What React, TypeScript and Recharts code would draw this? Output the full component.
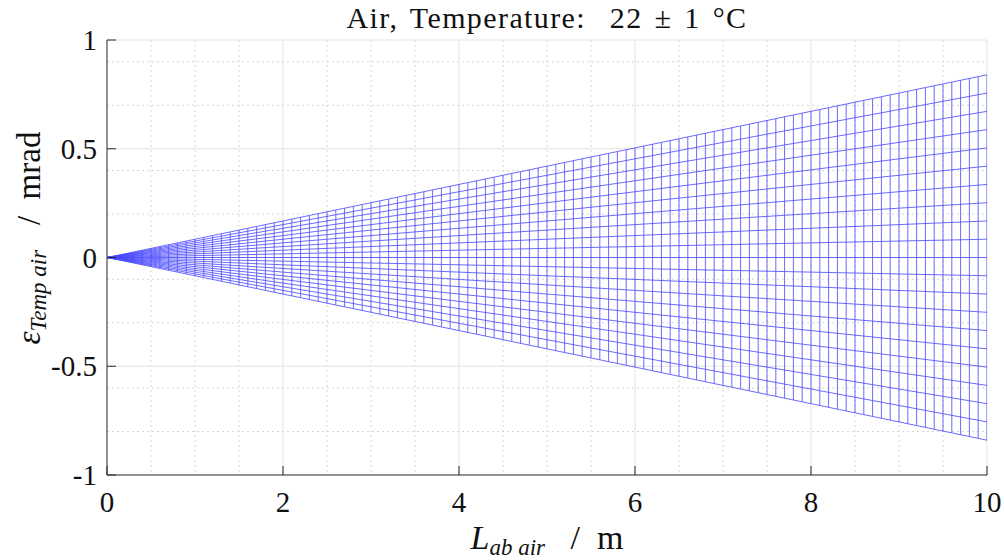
import React from 'react';
import {LineChart, Line, XAxis, YAxis, CartesianGrid} from 'recharts';

// temperature deviation from 22 °C, one mesh line each (K)
const tempOffsets = [
    -1, -0.9, -0.8, -0.7, -0.6, -0.5, -0.4, -0.3, -0.2, -0.1, 0,
    0.1, 0.2, 0.3, 0.4, 0.5, 0.6, 0.7, 0.8, 0.9, 1,
];

// air path lengths of the mesh columns (m)
const meshLengths = [
    0, 0.1, 0.2, 0.3, 0.4, 0.5, 0.6, 0.7, 0.8, 0.9,
    1, 1.1, 1.2, 1.3, 1.4, 1.5, 1.6, 1.7, 1.8, 1.9,
    2, 2.1, 2.2, 2.3, 2.4, 2.5, 2.6, 2.7, 2.8, 2.9,
    3, 3.1, 3.2, 3.3, 3.4, 3.5, 3.6, 3.7, 3.8, 3.9,
    4, 4.1, 4.2, 4.3, 4.4, 4.5, 4.6, 4.7, 4.8, 4.9,
    5, 5.1, 5.2, 5.3, 5.4, 5.5, 5.6, 5.7, 5.8, 5.9,
    6, 6.1, 6.2, 6.3, 6.4, 6.5, 6.6, 6.7, 6.8, 6.9,
    7, 7.1, 7.2, 7.3, 7.4, 7.5, 7.6, 7.7, 7.8, 7.9,
    8, 8.1, 8.2, 8.3, 8.4, 8.5, 8.6, 8.7, 8.8, 8.9,
    9, 9.1, 9.2, 9.3, 9.4, 9.5, 9.6, 9.7, 9.8, 9.9,
    10,
];

// mrad per metre per kelvin (0.84 mrad at 10 m, ±1 K)
const sensitivity = 0.084;

const xTicks = [0, 2, 4, 6, 8, 10];
const yTicks = [-1, -0.5, 0, 0.5, 1];
const xMinor = [0.5, 1, 1.5, 2.5, 3, 3.5, 4.5, 5, 5.5, 6.5, 7, 7.5, 8.5, 9, 9.5];
const yMinor = [-0.9, -0.8, -0.7, -0.6, -0.4, -0.3, -0.2, -0.1, 0.1, 0.2, 0.3, 0.4, 0.6, 0.7, 0.8, 0.9];

const fanLines = tempOffsets.map(dT =>
    meshLengths.map(L => ({x: L, y: sensitivity * dT * L}))
);
const columnLines = meshLengths.map(L =>
    tempOffsets.map(dT => ({x: L, y: sensitivity * dT * L}))
);

const W = 1004;
const H = 560;
const margin = {top: 40, right: 17, bottom: 25, left: 47};
const yAxisWidth = 60;
const xAxisHeight = 60;
const plotLeft = margin.left + yAxisWidth;
const plotBottom = H - margin.bottom - xAxisHeight;

const serif = '"Liberation Serif", "Times New Roman", Tinos, "DejaVu Serif", serif';
const textStyle = {fontFamily: serif};
const meshColor = '#4646ff';
const axisColor = '#262626';

const YTick = (props: any) => {
    const {y, payload} = props;
    return (
        <g>
            <line x1={plotLeft} x2={plotLeft + 9} y1={y} y2={y} stroke={axisColor}/>
            <text x={plotLeft - 10} y={y + 10} textAnchor="end" style={textStyle} fontSize={29} fill="#111">
                {String(payload.value)}
            </text>
        </g>
    );
};

const XTick = (props: any) => {
    const {x, payload} = props;
    return (
        <g>
            <line x1={x} x2={x} y1={plotBottom} y2={plotBottom - 9} stroke={axisColor}/>
            <text x={x} y={plotBottom + 37} textAnchor="middle" style={textStyle} fontSize={29} fill="#111">
                {String(payload.value)}
            </text>
        </g>
    );
};

const App = () => {
    return (
        <div style={{position: 'absolute', left: 0, top: 0, width: W, height: H, background: '#fff'}}>
            <LineChart width={W} height={H} margin={margin}>
                <CartesianGrid horizontalValues={yMinor} verticalValues={xMinor}
                               stroke="#d6d6d6" strokeDasharray="2 3"/>
                <CartesianGrid horizontalValues={[-0.5, 0, 0.5, 1]} verticalValues={[2, 4, 6, 8, 10]}
                               stroke="#e3e3e3"/>
                <XAxis type="number" dataKey="x" domain={[0, 10]} ticks={xTicks} height={xAxisHeight}
                       allowDataOverflow tickLine={false} axisLine={{stroke: axisColor}} tick={<XTick/>}/>
                <YAxis type="number" dataKey="y" domain={[-1, 1]} ticks={yTicks} width={yAxisWidth}
                       allowDataOverflow tickLine={false} axisLine={{stroke: axisColor}} tick={<YTick/>}/>
                {fanLines.map((pts, i) => (
                    <Line key={'f' + i} data={pts} dataKey="y" type="linear" stroke={meshColor}
                          strokeOpacity={0.8} strokeWidth={1} dot={false} activeDot={false}
                          isAnimationActive={false}/>
                ))}
                {columnLines.map((pts, i) => (
                    <Line key={'c' + i} data={pts} dataKey="y" type="linear" stroke={meshColor}
                          strokeOpacity={0.8} strokeWidth={1} dot={false} activeDot={false}
                          isAnimationActive={false}/>
                ))}
            </LineChart>
            <svg width={W} height={H} style={{position: 'absolute', left: 0, top: 0, pointerEvents: 'none'}}>
                <text x={547} y={28} textAnchor="middle" style={textStyle} fontSize={30} fill="#111"
                      letterSpacing={1.4} wordSpacing={3} xmlSpace="preserve">
                    {'Air, Temperature:  22 ± 1 °C'}
                </text>
                <text x={547} y={549} textAnchor="middle" style={textStyle} fontSize={34} fill="#111"
                      xmlSpace="preserve">
                    <tspan fontStyle="italic">L</tspan>
                    <tspan fontStyle="italic" fontSize={23} dy={6}>{'ab air'}</tspan>
                    <tspan dy={-6}>{'   /  m'}</tspan>
                </text>
                <text x={0} y={0} transform="translate(40 238) rotate(-90)" textAnchor="middle"
                      style={textStyle} fontSize={33} fill="#111" xmlSpace="preserve">
                    <tspan fontStyle="italic">ε</tspan>
                    <tspan fontStyle="italic" fontSize={23} dy={6}>{'Temp air'}</tspan>
                    <tspan dy={-6}>{'   /  mrad'}</tspan>
                </text>
            </svg>
        </div>
    );
};

export default App;
